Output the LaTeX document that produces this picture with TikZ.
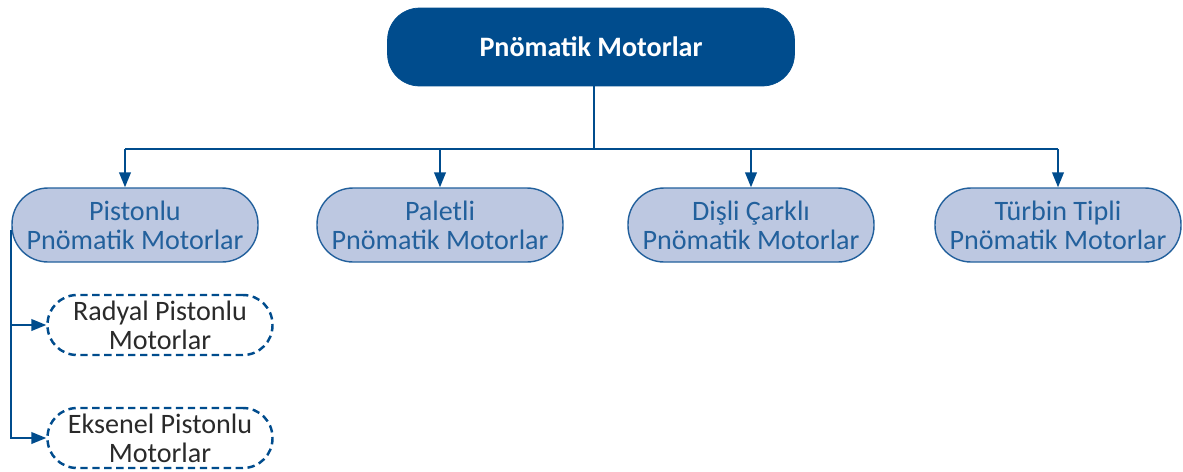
\documentclass[tikz,border=0pt]{standalone}
\usepackage{fontspec}
\setmainfont{Carlito}
\usepackage{tikz}
\usetikzlibrary{arrows.meta, positioning, calc}
\definecolor{motorblue}{HTML}{004C8D}
\definecolor{typefill}{HTML}{BDC8E1}
\definecolor{typeline}{HTML}{22609C}
\definecolor{subtext}{HTML}{2A2A2A}
\tikzset{
  rootbox/.style    = {draw=motorblue, fill=motorblue, text=white},
  typebox/.style    = {draw=typeline, line width=0.8pt, fill=typefill, text=typeline},
  subbox/.style     = {draw=motorblue, line width=1.4pt, fill=white, text=subtext,
                       dash pattern=on 4.2pt off 2.6pt},
}

\begin{document}
\begin{tikzpicture}[
    x=0.02cm, y=-0.02cm,
    >={Triangle[length=8.5pt, width=6.6pt]},
    every node/.style ={font=\fontsize{16}{16.5}\selectfont},
    box/.style    ={inner sep=1pt, align=center},
    root/.style   ={box, rootbox, rounded corners=0.64cm,
                    minimum width=8.14cm, minimum height=1.56cm,
                    font=\fontsize{16}{16.5}\selectfont\bfseries},
    kind/.style   ={box, typebox, rounded corners=0.72cm,
                    minimum width=4.92cm, minimum height=1.48cm},
    sub/.style    ={box, subbox, rounded corners=0.59cm,
                    minimum width=4.5cm, minimum height=1.2cm},
    link/.style   ={line width=1.1pt, draw=motorblue},
    flow/.style   ={->, link}
  ]
  \useasboundingbox (0,0) rectangle (1183,471);

  %% --- Top: the root node ---------------------------------------------
  \node[root] (root) at (591,47) {Pnömatik Motorlar};

  %% --- Four motor types -----------------------------------------------
  \node[kind] (pist)  at (135,225) {Pistonlu\\Pnömatik Motorlar};
  \node[kind] (pal)   at (440,225) {Paletli\\Pnömatik Motorlar};
  \node[kind] (disli) at (751,225) {Dişli Çarklı\\Pnömatik Motorlar};
  \node[kind] (turb)  at (1058,225) {Türbin Tipli\\Pnömatik Motorlar};

  %% --- Piston sub types (dashed) ---------------------------------------
  \node[sub] (radyal)  at (160,325) {Radyal Pistonlu\\Motorlar};
  \node[sub] (eksenel) at (160,438) {Eksenel Pistonlu\\Motorlar};

  %% --- Bus: root -> types -----------------------------------------------
  \coordinate (bus)  at (594,149);
  \coordinate (bus1) at (125,149);
  \draw[link] (root.south -| bus) -- (bus);
  \draw[link] (bus1) -- (bus -| turb.north);
  \draw[flow] (bus1) -- (bus1 |- pist.north);
  \foreach \n in {pal,disli,turb}
      \draw[flow] (bus -| \n.north) -- (\n.north);

  %% --- Branch: pistonlu -> sub types ---------------------------------------
  \coordinate (stem) at ([yshift=-3]pist.west);
  \draw[flow] (stem) |- (radyal.west);
  \draw[flow] (stem) |- (eksenel.west);
\end{tikzpicture}
\end{document}
